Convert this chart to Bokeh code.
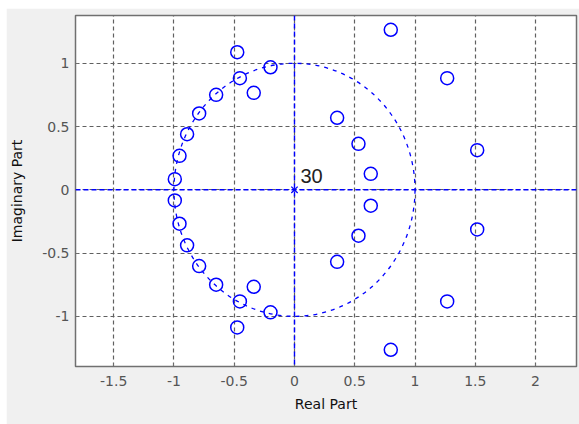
from bokeh.plotting import figure
from bokeh.models import Span, FixedTicker, Range1d, Label
from bokeh.embed import file_html
from bokeh.resources import INLINE

# zeros (real, imaginary)
zeros_re = [-0.475, -0.453, -0.199, -0.338, -0.650, -0.791, -0.891, -0.954, -0.993,
            0.799, 1.267, 0.354, 0.531, 1.516, 0.633,
            -0.475, -0.453, -0.199, -0.338, -0.650, -0.791, -0.891, -0.954, -0.993,
            0.799, 1.267, 0.354, 0.531, 1.516, 0.633]
zeros_im = [1.087, 0.882, 0.968, 0.766, 0.750, 0.603, 0.439, 0.268, 0.084,
            1.264, 0.882, 0.569, 0.363, 0.313, 0.126,
            -1.087, -0.882, -0.968, -0.766, -0.750, -0.603, -0.439, -0.268, -0.084,
            -1.264, -0.882, -0.569, -0.363, -0.313, -0.126]
poles_re = [0.0]
poles_im = [0.0]
pole_mult = "30"
x_ticks = [-1.5, -1, -0.5, 0, 0.5, 1, 1.5, 2]
y_ticks = [-1, -0.5, 0, 0.5, 1]
x_tick_labels = {-1.5: "-1.5", -1: "-1", -0.5: "-0.5", 0: "0", 0.5: "0.5", 1: "1", 1.5: "1.5", 2: "2"}
y_tick_labels = {-1: "-1", -0.5: "-0.5", 0: "0", 0.5: "0.5", 1: "1"}

BLUE = "#0000ff"
FONT = "DejaVu Sans"

p = figure(width=573, height=416, output_backend="svg", toolbar_location=None,
           x_range=Range1d(-1.817, 2.34), y_range=Range1d(-1.396, 1.377),
           min_border_left=69, min_border_right=3, min_border_top=7, min_border_bottom=58,
           background_fill_color="white", border_fill_color="#f0f0f0",
           outline_line_color="#707070", outline_line_width=1.5)
p.margin = (8, 0, 0, 6)

for ax in (p.xaxis[0], p.yaxis[0]):
    ax.axis_line_color = None
    ax.major_tick_in = 3
    ax.major_tick_out = 0
    ax.major_tick_line_color = "#707070"
    ax.minor_tick_line_color = None
    ax.major_label_text_font = FONT
    ax.major_label_text_font_size = "14px"
    ax.major_label_text_color = "#555555"
    ax.axis_label_text_font = FONT
    ax.axis_label_text_font_size = "14px"
    ax.axis_label_text_font_style = "normal"
    ax.axis_label_text_color = "#111111"

p.xaxis.ticker = FixedTicker(ticks=x_ticks)
p.yaxis.ticker = FixedTicker(ticks=y_ticks)
p.xaxis.major_label_overrides = {k: v for k, v in x_tick_labels.items()}
p.yaxis.major_label_overrides = {k: v for k, v in y_tick_labels.items()}
p.xaxis.axis_label = "Real Part"
p.yaxis.axis_label = "Imaginary Part"
p.xaxis.major_label_standoff = 9
p.yaxis.major_label_standoff = 6
p.xaxis.axis_label_standoff = 7
p.yaxis.axis_label_standoff = 14

p.grid.grid_line_color = "#606060"
p.grid.grid_line_dash = "4 3"
p.grid.grid_line_width = 1.2

# unit circle
p.ellipse(x=[0], y=[0], width=[2], height=[2], fill_color=None,
          line_color=BLUE, line_dash="4 5", line_width=1.3)

# axis lines through origin
p.add_layout(Span(location=0, dimension="width", line_color=BLUE, line_dash="5 3", line_width=1.4))
p.add_layout(Span(location=0, dimension="height", line_color=BLUE, line_dash="5 3", line_width=1.4))

# zeros
p.scatter(zeros_re, zeros_im, marker="circle", size=13, fill_color=None,
          line_color=BLUE, line_width=1.5)
# poles
p.scatter(poles_re, poles_im, marker="x", size=9, line_color=BLUE, line_width=1.3)
p.add_layout(Label(x=poles_re[0], y=poles_im[0], text=pole_mult, x_offset=6, y_offset=14,
                   text_baseline="alphabetic",
                   text_font="Liberation Sans", text_font_size="20px", text_color="#222222"))

open("out.html", "w").write(file_html(p, INLINE))
